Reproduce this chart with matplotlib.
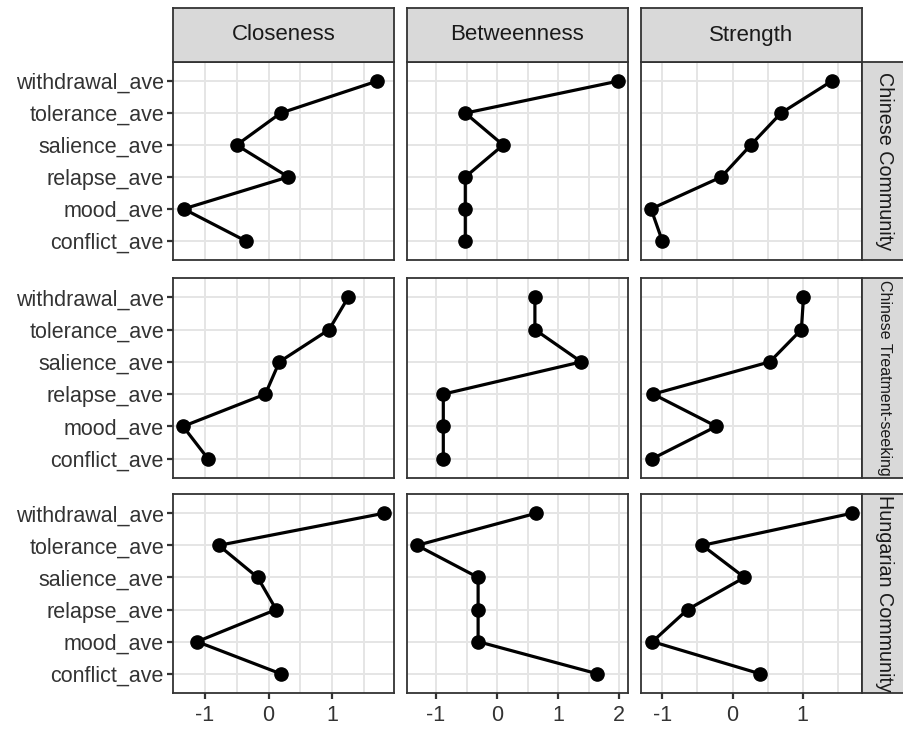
import matplotlib
matplotlib.use("Agg")
import matplotlib.pyplot as plt
from matplotlib import font_manager
import numpy as np

plt.rcParams["font.family"] = ["Liberation Sans", "DejaVu Sans"]

# ── data ─────────────────────────────────────────────────────
nodes = ["conflict_ave", "mood_ave", "relapse_ave",
         "salience_ave", "tolerance_ave", "withdrawal_ave"]
measures = ["Closeness", "Betweenness", "Strength"]
groups = ["Chinese Community", "Chinese Treatment-seeking", "Hungarian Community"]

# values listed in the order of `nodes` (bottom -> top)
cc_closeness   = [-0.36, -1.33, 0.31, -0.50, 0.19, 1.70]
cc_betweenness = [-0.52, -0.52, -0.52, 0.10, -0.52, 1.98]
cc_strength    = [-1.00, -1.16, -0.16, 0.26, 0.69, 1.41]

ct_closeness   = [-0.95, -1.34, -0.05, 0.17, 0.95, 1.25]
ct_betweenness = [-0.88, -0.88, -0.88, 1.38, 0.62, 0.62]
ct_strength    = [-1.14, -0.23, -1.13, 0.53, 0.98, 1.01]

hc_closeness   = [0.19, -1.12, 0.12, -0.17, -0.78, 1.81]
hc_betweenness = [1.64, -0.31, -0.31, -0.31, -1.31, 0.64]
hc_strength    = [0.39, -1.14, -0.64, 0.17, -0.43, 1.70]

values = {
    ("Chinese Community", "Closeness"): cc_closeness,
    ("Chinese Community", "Betweenness"): cc_betweenness,
    ("Chinese Community", "Strength"): cc_strength,
    ("Chinese Treatment-seeking", "Closeness"): ct_closeness,
    ("Chinese Treatment-seeking", "Betweenness"): ct_betweenness,
    ("Chinese Treatment-seeking", "Strength"): ct_strength,
    ("Hungarian Community", "Closeness"): hc_closeness,
    ("Hungarian Community", "Betweenness"): hc_betweenness,
    ("Hungarian Community", "Strength"): hc_strength,
}

x_ticks = {
    "Closeness": [-1, 0, 1],
    "Betweenness": [-1, 0, 1, 2],
    "Strength": [-1, 0, 1],
}

# ── layout (pixels) ──────────────────────────────────────────
W, H = 904, 729
col_x = [(173, 394), (407, 628), (641, 862)]
row_y = [(62, 260), (278, 478), (494, 693)]
top_strip = (8, 62)
right_strip = (862, 910)   # runs off the right edge, as in the original

BORDER = "#333333"
STRIP = "#D9D9D9"
GRID = "#E5E5E5"
AXTXT = "#333333"
FS = 15.5

fig = plt.figure(figsize=(W / 100, H / 100), dpi=100, facecolor="white")


def px_rect(x0, x1, y0, y1):
    return [x0 / W, 1 - y1 / H, (x1 - x0) / W, (y1 - y0) / H]


ypos = np.arange(1, len(nodes) + 1)

# free x scale per column (like facet_grid scales="free_x")
xlims = {}
for m in measures:
    allv = np.concatenate([values[(g, m)] for g in groups])
    lo, hi = allv.min(), allv.max()
    pad = 0.05 * (hi - lo)
    xlims[m] = (lo - pad, hi + pad)

for ri, g in enumerate(groups):
    for ci, m in enumerate(measures):
        x0, x1 = col_x[ci]
        y0, y1 = row_y[ri]
        ax = fig.add_axes(px_rect(x0, x1, y0, y1))
        ax.set_facecolor("white")
        v = values[(g, m)]

        ticks = x_ticks[m]
        ax.set_xticks(ticks)
        minors = [t + 0.5 for t in [ticks[0] - 1] + ticks]
        ax.set_xticks(minors, minor=True)
        ax.set_yticks(ypos)
        ax.set_xlim(*xlims[m])
        ax.set_ylim(0.4, len(nodes) + 0.6)

        ax.grid(True, which="both", axis="x", color=GRID, lw=1.4, zorder=0)
        ax.grid(True, which="major", axis="y", color=GRID, lw=1.4, zorder=0)
        ax.set_axisbelow(True)

        ax.plot(v, ypos, color="black", lw=2.3, zorder=3,
                marker="o", markersize=9.5, solid_capstyle="round")

        for s in ax.spines.values():
            s.set_edgecolor(BORDER)
            s.set_linewidth(1.3)

        ax.tick_params(axis="both", which="major", length=4.5, width=1.6,
                       color=BORDER, labelsize=FS, labelcolor=AXTXT, pad=2)
        ax.tick_params(axis="x", which="minor", length=0)

        if ci == 0:
            ax.set_yticklabels(nodes)
        else:
            ax.tick_params(axis="y", length=0, labelleft=False)
        if ri == len(groups) - 1:
            ax.set_xticklabels([str(t) for t in ticks])
            ax.tick_params(axis="x", pad=4)
        else:
            ax.tick_params(axis="x", which="major", length=0, labelbottom=False)

# ── strips ────────────────────────────────────────────────────
for ci, m in enumerate(measures):
    x0, x1 = col_x[ci]
    sa = fig.add_axes(px_rect(x0, x1, top_strip[0], top_strip[1]))
    sa.set_xticks([]); sa.set_yticks([])
    sa.set_facecolor(STRIP)
    for s in sa.spines.values():
        s.set_edgecolor(BORDER); s.set_linewidth(1.3)
    sa.text(0.5, 0.5, m, ha="center", va="center", fontsize=FS + 0.5,
            color="#1A1A1A", transform=sa.transAxes)

installed = {f.name for f in font_manager.fontManager.ttflist}
has_narrow = "Liberation Sans Narrow" in installed

for ri, g in enumerate(groups):
    y0, y1 = row_y[ri]
    sa = fig.add_axes(px_rect(right_strip[0], right_strip[1], y0, y1))
    sa.set_xticks([]); sa.set_yticks([])
    sa.set_facecolor(STRIP)
    for s in sa.spines.values():
        s.set_edgecolor(BORDER); s.set_linewidth(1.3)
    if len(g) < 20:
        fam, fs = ["Liberation Sans", "DejaVu Sans"], 14.2
    elif has_narrow:
        fam, fs = ["Liberation Sans Narrow", "Liberation Sans"], 12.1
    else:
        fam, fs = ["Liberation Sans", "DejaVu Sans"], 11.5
    # centre of the visible text column sits ~23 px right of the panel edge
    sa.text(23 / (right_strip[1] - right_strip[0]), 0.5, g,
            ha="center", va="center", fontsize=fs, family=fam,
            rotation=-90, color="#1A1A1A", transform=sa.transAxes)

fig.savefig("out.png", dpi=100, facecolor="white")
